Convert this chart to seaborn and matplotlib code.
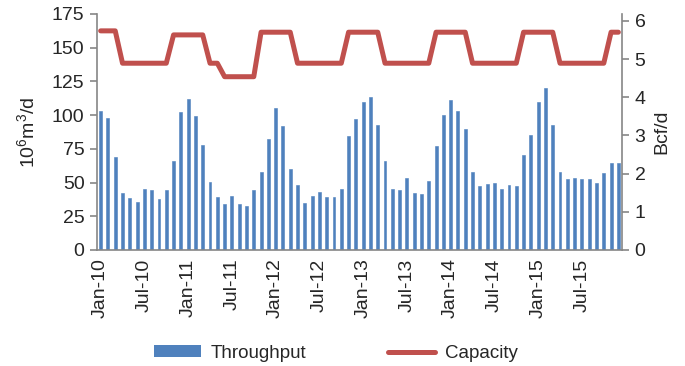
import numpy as np
import pandas as pd
import matplotlib
matplotlib.use("Agg")
import matplotlib.pyplot as plt
import seaborn as sns
from matplotlib.patches import Patch
from matplotlib.lines import Line2D

# monthly data Jan-10 .. Dec-15, 10^6 m3/d
months = pd.date_range("2010-01-01", "2015-12-01", freq="MS").strftime("%b-%y").tolist()

throughput = [
    103.3, 97.6, 68.7, 42.0, 38.6, 35.6, 45.5, 44.2, 37.6, 44.2, 66.2, 102.1,
    112.2, 99.6, 77.9, 50.2, 39.5, 33.9, 40.3, 33.9, 32.4, 44.5, 58.1, 82.3,
    105.0, 91.7, 60.3, 47.9, 35.1, 40.0, 43.0, 39.3, 39.5, 45.5, 84.4, 97.3,
    110.0, 113.2, 92.7, 66.0, 45.5, 44.2, 53.1, 42.3, 41.8, 51.2, 77.4, 100.3,
    111.5, 103.3, 90.0, 57.8, 47.5, 48.9, 49.7, 45.0, 47.9, 47.2, 70.4, 85.0,
    110.0, 120.1, 92.9, 57.8, 52.6, 53.6, 52.9, 52.9, 49.4, 56.8, 64.3, 64.8,
]

capacity = [
    162.5, 162.5, 162.5, 138.5, 138.5, 138.5, 138.5, 138.5, 138.5, 138.5, 159.5, 159.5,
    159.5, 159.5, 159.5, 138.5, 138.5, 128.5, 128.5, 128.5, 128.5, 128.5, 161.5, 161.5,
    161.5, 161.5, 161.5, 138.5, 138.5, 138.5, 138.5, 138.5, 138.5, 138.5, 161.5, 161.5,
    161.5, 161.5, 161.5, 138.5, 138.5, 138.5, 138.5, 138.5, 138.5, 138.5, 161.5, 161.5,
    161.5, 161.5, 161.5, 138.5, 138.5, 138.5, 138.5, 138.5, 138.5, 138.5, 161.5, 161.5,
    161.5, 161.5, 161.5, 138.5, 138.5, 138.5, 138.5, 138.5, 138.5, 138.5, 161.5, 161.5,
]

df = pd.DataFrame({"month": months, "idx": np.arange(len(months)),
                   "throughput": throughput, "capacity": capacity})

sns.set_style("white")
plt.rcParams["font.family"] = ["Liberation Sans", "DejaVu Sans"]
plt.rcParams["mathtext.default"] = "regular"

bar_color = "#4F81BD"
line_color = "#C0504D"
axis_color = "#868686"
fs = 14

fig = plt.figure(figsize=(6.85, 3.66), dpi=100)
ax = fig.add_axes([97 / 685, 1 - 250 / 366, (622 - 97) / 685, (250 - 14) / 366])

sns.barplot(data=df, x="month", y="throughput", color=bar_color, width=0.4,
            saturation=1, edgecolor=bar_color, linewidth=0.4, ax=ax)
sns.lineplot(data=df, x="idx", y="capacity", color=line_color, linewidth=3.6, ax=ax)

ax.set_xlim(-0.5, len(months) - 0.5)
ax.set_ylim(0, 175)
ax.set_yticks(np.arange(0, 176, 25))
ax.set_ylabel("10$^6$m$^3$/d", fontsize=fs, labelpad=10)
ax.set_xlabel("")

# labels every 6 months, tick marks between categories
lab_pos = np.arange(0, len(months), 6)
ax.set_xticks(lab_pos)
ax.set_xticklabels([months[i] for i in lab_pos], rotation=90, fontsize=fs)
ax.tick_params(axis="x", which="major", length=0, pad=6)
ax.set_xticks(np.arange(-0.5, len(months), 6), minor=True)
ax.tick_params(axis="x", which="minor", length=5, color=axis_color, width=1.2)
ax.tick_params(axis="y", length=5, color=axis_color, width=1.2, labelsize=fs, pad=4)

for s in ["top", "right"]:
    ax.spines[s].set_visible(False)
for s in ["left", "bottom"]:
    ax.spines[s].set_color(axis_color)
    ax.spines[s].set_linewidth(1.2)

ax2 = ax.twinx()
ax2.set_ylim(0, 175 / 28.32)
ax2.set_yticks(np.arange(0, 7, 1))
ax2.set_ylabel("Bcf/d", fontsize=fs, labelpad=6)
ax2.tick_params(axis="y", length=5, color=axis_color, width=1.2, labelsize=fs, pad=4)
for s in ["top", "left", "bottom"]:
    ax2.spines[s].set_visible(False)
ax2.spines["right"].set_color(axis_color)
ax2.spines["right"].set_linewidth(1.2)

handles = [Patch(facecolor=bar_color, edgecolor="none", label="Throughput"),
           Line2D([0], [0], color=line_color, linewidth=3.6, label="Capacity")]
fig.legend(handles=handles, loc="lower center", bbox_to_anchor=(0.49, -0.035), ncol=2,
           frameon=False, fontsize=13.5, handlelength=2.5, handleheight=0.6,
           columnspacing=4.4, handletextpad=0.5)

fig.savefig("out.png", dpi=100)
